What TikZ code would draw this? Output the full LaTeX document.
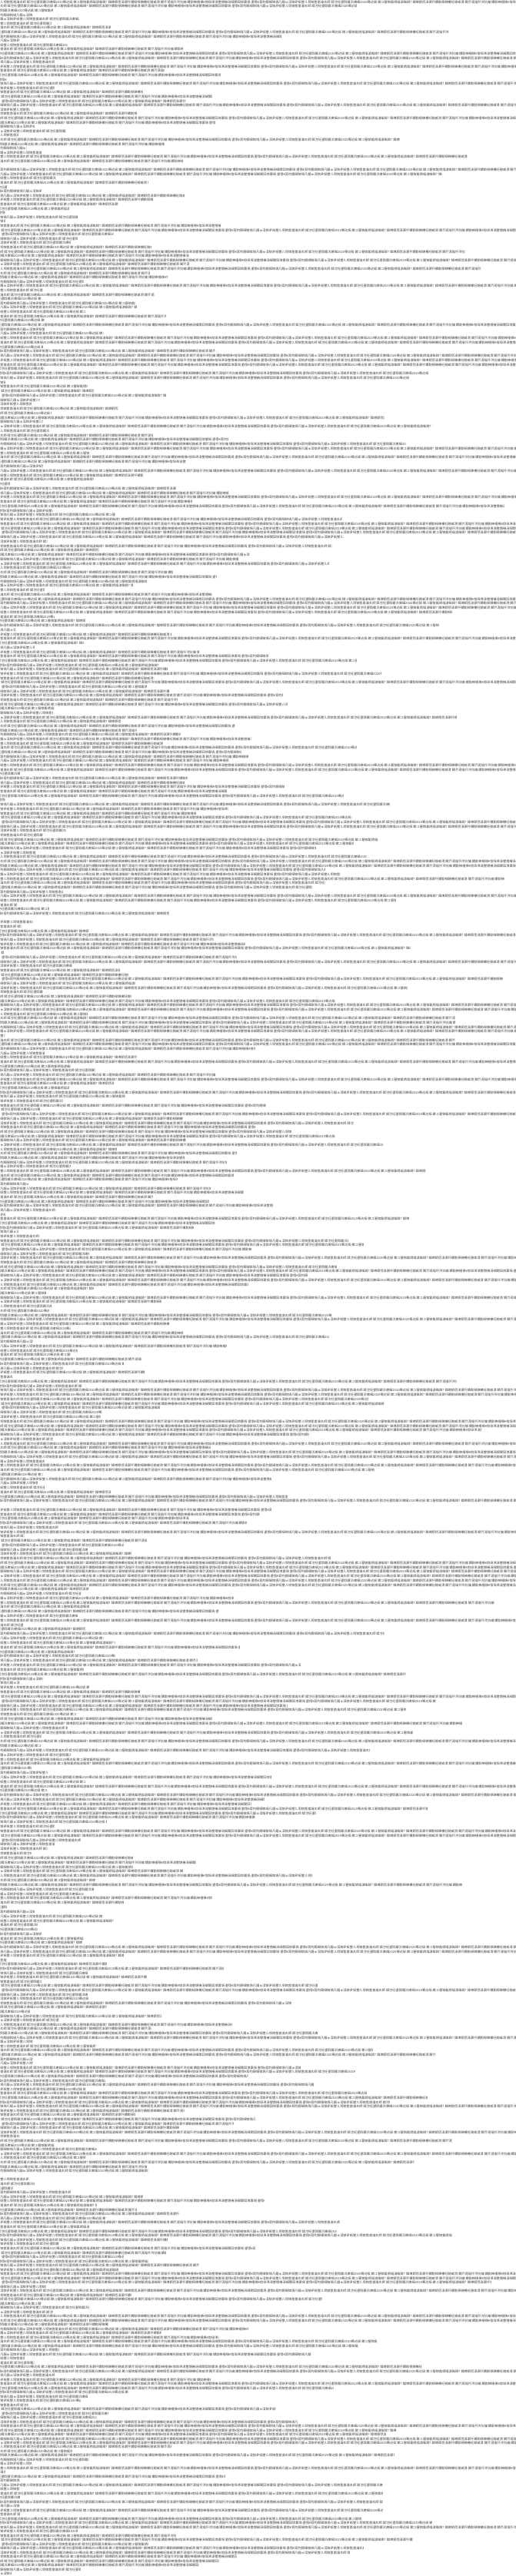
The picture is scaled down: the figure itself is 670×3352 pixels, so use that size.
\documentclass[tikz,border=0pt]{standalone}
\usepackage{fontspec}
\newfontfamily\cjk{Noto Sans CJK SC}
\newcommand\fillstr{鍙傝€冩枃鐚細锛堝凡鎾ゅ洖锛夛紙鐢ㄦ埛锛氬畨瀹夊師  鍒涳紝鍙戝竷浜庯細2020骞达級 鏉ユ簮锛氱綉缁滄暣鐞?  鍏竴銆佸湪灏忓鐨勬椂鍊欙紝鎴戜滑 閮芥浘缁忓涔犺繃  鐨勯棶棰樸€傛垜浠湪鐢熸椿涓細閬囧埌寰堝 }
\newcommand\fillall{\fillstr\fillstr\fillstr}
\tikzset{
  txt/.style={anchor=base west, inner sep=0pt, font=\cjk\fontsize{4.2}{5}\selectfont, text=black!72}
}
\newcommand\tblock[5]{%
  \foreach \len [count=\i] in {#5} {
    \ifnum\len>0
      \pgfmathsetmacro\yy{#2+(\i-0.5)/#4*#3}
      \pgfmathsetmacro\ww{2+\len/1568*670}
      \pgfmathsetmacro\xo{2-mod(\i*37+#1*11,31)*4.2}
      \begin{scope}
        \clip (0,\yy-3.2) rectangle (\ww,\yy+3.2);
        \node[txt] (t#1-\i) at (\xo,\yy+1.5) {\fillall};
      \end{scope}
    \fi
  }%
}
\begin{document}
\begin{tikzpicture}[x=1pt,y=-1pt]
\fill[white] (0,0) rectangle (670,3352);
\useasboundingbox (0,0) rectangle (670,3352);
\tblock{1}{0}{420}{75}{1600,1080,155,95,235,150,330,1360,850,55,200,550,1600,1600,160,1600,495,665,15,1600,160,430,640,560,1600,85,410,1600,650,100,195,50,1210,495,75,120,1420,550,0,1600,1340,165,445,15,120,555,460,355,205,10,230,10,665,1600,340,230,210,455,1410,570,1600,570,1460,450,505,250,1600,125,465,120,405,410,255,500,130}
\tblock{2}{420}{420}{73}{1600,130,310,1600,1600,125,650,1600,1600,1600,130,1300,1240,10,260,280,500,115,90,355,150,1165,125,1310,145,460,690,1230,1600,265,1600,560,125,1600,430,280,25,530,690,1600,580,1530,155,345,1035,1600,1600,1600,1040,140,1005,295,755,720,995,210,520,655,440,400,130,640,1600,1600,1600,1370,160,255,1330,40,515,1600,250}
\tblock{3}{840}{420}{74}{100,600,810,1080,480,505,1155,465,1600,440,510,855,535,870,160,155,1385,365,710,410,545,760,490,1080,730,750,690,1600,1600,55,565,555,860,685,1040,10,1180,690,590,1065,1600,1600,195,125,1145,1070,955,105,1110,1600,1600,985,1030,1530,985,945,185,1600,1200,45,145,510,0,95,60,265,1600,645,740,1245,5,715,1600,215}
\tblock{4}{1260}{420}{74}{360,385,1525,405,1235,125,395,1015,1600,1600,260,1380,1380,1600,1600,10,1380,1600,770,130,410,1600,210,285,650,1600,340,205,1600,375,185,805,115,1600,550,1070,770,880,1015,560,1160,350,715,555,685,210,1290,705,535,80,635,735,460,630,825,165,10,1240,650,585,50,115,1055,1100,760,265,1600,475,1020,1600,930,1600,750,280}
\tblock{5}{1680}{420}{73}{135,1600,485,150,145,1005,1600,510,210,550,995,95,685,230,210,425,370,185,435,35,1385,245,1600,1600,1115,1165,480,305,300,1600,1600,1460,935,155,1600,635,1600,1600,130,1600,1135,125,820,110,130,330,870,1600,0,820,785,570,745,175,1600,70,440,370,260,395,1000,1600,1600,1600,1600,1600,1600,265,240,705,1500,265,660}
\tblock{6}{2100}{420}{72}{230,1600,65,255,1165,310,345,725,220,345,595,910,250,1230,125,55,265,420,1600,1320,870,1230,225,640,1400,200,1250,120,1600,120,1120,210,330,1600,90,140,820,255,1600,140,1600,800,760,1295,955,770,320,160,1600,1600,240,160,140,90,400,590,400,550,945,285,1400,280,250,640,370,15,100,305,340,110,110,120}
\tblock{7}{2520}{420}{75}{250,245,1600,1600,370,15,320,675,260,440,120,960,1600,260,265,880,320,85,485,175,700,455,960,1600,95,285,1130,1320,95,95,910,1075,750,315,950,255,1110,1295,1180,1600,555,405,770,705,540,1600,55,1370,160,290,1600,255,1255,440,445,0,80,100,35,210,430,800,290,410,540,315,1030,265,1020,1370,505,175,770,500,370}
\tblock{8}{2940}{412}{75}{445,600,355,1600,1600,1490,135,1600,395,975,120,265,155,1600,1600,325,750,485,660,1140,1085,175,940,70,100,1280,1600,160,635,1600,1010,385,260,240,80,835,325,290,900,1600,1200,1170,1600,1600,515,215,1195,265,90,1600,10,680,55,1160,55,1160,55,1160,55,1160,55,1095,1310,1600,230,530,1250,445,1100,1060,715,660,600,240,30}
\end{tikzpicture}
\end{document}
